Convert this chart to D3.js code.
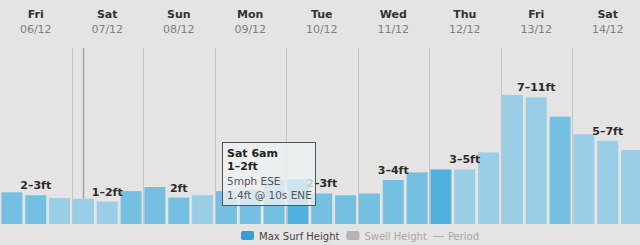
<!DOCTYPE html>
<html>
<head>
<meta charset="utf-8">
<script src="https://cdn.jsdelivr.net/npm/d3@7"></script>
<style>
	html, body { margin: 0; padding: 0; background: #e4e4e4; }
	svg { display: block; font-family: "DejaVu Sans", Verdana, sans-serif; }
</style>
</head>
<body>
<svg id="chart" width="640" height="245"></svg>
<script>
"use strict";

//
//	Forecast data
//
var dayNames  = ["Fri", "Sat", "Sun", "Mon", "Tue", "Wed", "Thu", "Fri", "Sat"];
var dayDates  = ["06/12", "07/12", "08/12", "09/12", "10/12", "11/12", "12/12", "13/12", "14/12"];
var dayRanges = ["2–3ft", "1–2ft", "2ft", "", "2–3ft", "3–4ft", "3–5ft", "7–11ft", "5–7ft"];

// three readings a day, feet
var surfHeights = [2.7, 2.45, 2.2,   2.15, 1.9, 2.8,   3.15, 2.25, 2.45,
                   2.8, 2.9, 3.8,    3.8, 2.6, 2.45,   2.6, 3.75, 4.4,
                   4.65, 4.65, 6.1,  11.0, 10.8, 9.15, 7.65, 7.1, 6.3];
// rating of each reading: h = high, m = medium, l = low
var barTone = ["m", "m", "l",  "l", "l", "m",  "m", "m", "l",
               "m", "m", "m",  "h", "m", "m",  "m", "m", "m",
               "h", "l", "l",  "l", "l", "m",  "l", "l", "l"];

var hoverIndex = 3;
var tipLines = ["Sat 6am", "1–2ft", "5mph ESE", "1.4ft @ 10s ENE"];

var legendItems = ["Max Surf Height", "Swell Height", "Period"];

//
//	Scales
//
var svg = d3.select("#chart");
var plotTop = 48, plotBottom = 224, plotRight = 643.5;

var x = d3.scaleBand()
	.domain(d3.range(surfHeights.length))
	.range([0, plotRight])
	.paddingInner(0.12)
	.paddingOuter(0.06);

var xDay = d3.scaleBand()
	.domain(d3.range(dayNames.length))
	.range([0, plotRight]);

var y = d3.scaleLinear()
	.domain([0, 15])
	.range([plotBottom, plotTop]);

var toneColor = d3.scaleOrdinal()
	.domain(["h", "m", "l"])
	.range(["#52b0de", "#74bfe2", "#9acde6"]);

//
//	Day header
//
var head = svg.append("g");
head.selectAll("text.day").data(dayNames).enter().append("text")
	.attr("class", "day")
	.attr("x", function(d, i){ return xDay(i) + xDay.bandwidth() / 2; })
	.attr("y", 18)
	.attr("text-anchor", "middle")
	.style("font-size", "11px")
	.style("font-weight", "bold")
	.style("fill", "#333")
	.text(function(d){ return d; });

head.selectAll("text.date").data(dayDates).enter().append("text")
	.attr("class", "date")
	.attr("x", function(d, i){ return xDay(i) + xDay.bandwidth() / 2; })
	.attr("y", 33)
	.attr("text-anchor", "middle")
	.style("font-size", "11px")
	.style("fill", "#808080")
	.text(function(d){ return d; });

//
//	Day separators and the hover line
//
svg.selectAll("line.sep").data(d3.range(1, dayNames.length)).enter().append("line")
	.attr("class", "sep")
	.attr("x1", function(d){ return Math.round(xDay(d)) + 0.5; })
	.attr("x2", function(d){ return Math.round(xDay(d)) + 0.5; })
	.attr("y1", plotTop)
	.attr("y2", plotBottom)
	.style("stroke", "#c4c4c4")
	.style("stroke-width", 1);

var hx = Math.round(x(hoverIndex) + x.bandwidth() / 2) + 0.5;
svg.append("line")
	.attr("x1", hx).attr("x2", hx)
	.attr("y1", plotTop).attr("y2", plotBottom)
	.style("stroke", "#a4a4a4")
	.style("stroke-width", 1.5);

//
//	Bars
//
svg.append("g").selectAll("rect").data(surfHeights).enter().append("rect")
	.attr("x", function(d, i){ return x(i); })
	.attr("y", function(d){ return y(d); })
	.attr("width", x.bandwidth())
	.attr("height", function(d){ return plotBottom - y(d); })
	.style("fill", function(d, i){ return toneColor(barTone[i]); });

//
//	Range label above the middle reading of each day
//
svg.append("g").selectAll("text").data(dayRanges).enter().append("text")
	.attr("x", function(d, i){ return x(i * 3 + 1) + x.bandwidth() / 2; })
	.attr("y", function(d, i){ return y(surfHeights[i * 3 + 1]) - 6; })
	.attr("text-anchor", "middle")
	.style("font-size", "11px")
	.style("font-weight", "bold")
	.style("fill", "#2b2b2b")
	.text(function(d){ return d; });

//
//	Tooltip
//
var tip = svg.append("g").attr("transform", "translate(222,142)");
tip.append("rect")
	.attr("x", 0.5).attr("y", 0.5)
	.attr("width", 93).attr("height", 63)
	.style("fill", "#eef1f3")
	.style("fill-opacity", 0.8)
	.style("stroke", "#555")
	.style("stroke-width", 1);

var tipY = [15, 28, 43, 57];
tip.selectAll("text").data(tipLines).enter().append("text")
	.attr("x", 5)
	.attr("y", function(d, i){ return tipY[i]; })
	.style("font-size", function(d, i){ return i < 2 ? "11px" : "10.5px"; })
	.style("font-weight", function(d, i){ return i < 2 ? "bold" : "normal"; })
	.style("fill", function(d, i){ return i < 2 ? "#222" : "#555"; })
	.text(function(d){ return d; });

//
//	Legend, laid out left to right from measured text widths
//
var leg = svg.append("g").attr("transform", "translate(241,231)");
var cx = 0;

leg.append("rect")
	.attr("x", cx).attr("y", 0).attr("width", 13).attr("height", 9).attr("rx", 2)
	.style("fill", "#3a9cd2");
var t1 = leg.append("text")
	.attr("x", cx + 18).attr("y", 9)
	.style("font-size", "10px").style("fill", "#444")
	.text(legendItems[0]);
cx += 18 + t1.node().getComputedTextLength() + 7;

leg.append("rect")
	.attr("x", cx).attr("y", 0).attr("width", 13).attr("height", 9).attr("rx", 2)
	.style("fill", "#b3b3b3");
var t2 = leg.append("text")
	.attr("x", cx + 18).attr("y", 9)
	.style("font-size", "10px").style("fill", "#a8a8a8")
	.text(legendItems[1]);
cx += 18 + t2.node().getComputedTextLength() + 6;

leg.append("line")
	.attr("x1", cx).attr("x2", cx + 11).attr("y1", 5.5).attr("y2", 5.5)
	.style("stroke", "#b0b0b0").style("stroke-width", 1);
leg.append("text")
	.attr("x", cx + 15).attr("y", 9)
	.style("font-size", "10px").style("fill", "#a8a8a8")
	.text(legendItems[2]);
</script>
</body>
</html>
